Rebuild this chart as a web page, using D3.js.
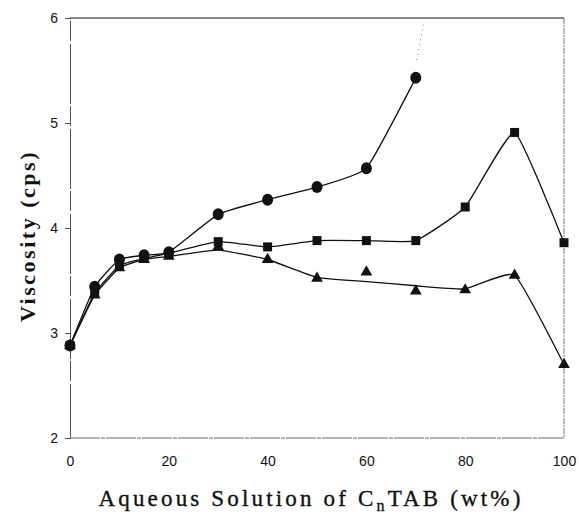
<!DOCTYPE html>
<html>
<head>
<meta charset="utf-8">
<script src="https://cdn.jsdelivr.net/npm/d3@7/dist/d3.min.js"></script>
<style>
  html, body { margin: 0; padding: 0; background: #fff; }
  svg { display: block; }
</style>
</head>
<body>
<svg id="chart" width="579" height="518"></svg>
<script>
// Concentration of CnTAB in the aqueous solution (wt%)
const concentration = [0, 5, 10, 15, 20, 30, 40, 50, 60, 70, 80, 90, 100];

// Viscosity (cps) for the three surfactant series
const circleSeries   = [2.88, 3.44, 3.70, 3.74, 3.77, 4.13, 4.27, 4.39, 4.57, 5.43];
const squareSeries   = [2.88, 3.38, 3.64, 3.71, 3.76, 3.87, 3.82, 3.88, 3.88, 3.88, 4.20, 4.91, 3.86];
const triangleSeries = [2.88, 3.36, 3.62, 3.70, 3.73, 3.82, 3.70, 3.52, 3.58, 3.40, 3.41, 3.55, 2.70];
// smoothed trend drawn through the triangle series
const triangleTrend  = [2.88, 3.36, 3.62, 3.70, 3.73, 3.79, 3.70, 3.53, 3.49, 3.45, 3.42, 3.55, 2.70];
// dotted continuation above the last circle point
const circleExtension = [[70.2, 5.60], [71.6, 5.96]];

const xTicks = [0, 20, 40, 60, 80, 100];
const yTicks = [2, 3, 4, 5, 6];

const svg = d3.select("#chart");
const x = d3.scaleLinear().domain([0, 100]).range([70, 564]);
const y = d3.scaleLinear().domain([2, 6]).range([438, 18]);

const ink = "#111";

// plot frame
svg.append("line").attr("x1", x(0)).attr("x2", x(100)).attr("y1", y(6)).attr("y2", y(6))
  .attr("stroke", ink).attr("stroke-width", 1.2);
svg.append("line").attr("x1", x(100)).attr("x2", x(100)).attr("y1", y(6)).attr("y2", y(2))
  .attr("stroke", "#777").attr("stroke-width", 1).attr("stroke-dasharray", "6,1,2,1");
svg.append("line").attr("x1", x(0)).attr("x2", x(100)).attr("y1", y(2)).attr("y2", y(2))
  .attr("stroke", "#666").attr("stroke-width", 1).attr("stroke-dasharray", "30,1,4,1");

// left axis
const yAxis = d3.axisLeft(y).tickValues(yTicks).tickSize(5).tickPadding(7).tickFormat(d3.format("d"));
const gy = svg.append("g").attr("transform", `translate(${x(0)},0)`).call(yAxis);
gy.select(".domain").attr("stroke", "#555").attr("stroke-dasharray", "60,3,20,2");
gy.selectAll(".tick line").attr("stroke", "#555");
gy.selectAll("text").attr("font-family", "Liberation Sans, Arial, sans-serif")
  .attr("font-size", 14).attr("fill", ink);

// bottom axis labels
const xAxis = d3.axisBottom(x).tickValues(xTicks).tickSize(0).tickPadding(18).tickFormat(d3.format("d"));
const gx = svg.append("g").attr("transform", `translate(0,${y(2)})`).call(xAxis);
gx.select(".domain").remove();
gx.selectAll("text").attr("font-family", "Liberation Sans, Arial, sans-serif")
  .attr("font-size", 14).attr("fill", ink);

// series lines
const line = d3.line().curve(d3.curveCardinal.tension(0.6))
  .x(d => x(d[0])).y(d => y(d[1]));
const pairs = vals => vals.map((v, i) => [concentration[i], v]);

[circleSeries, squareSeries, triangleTrend].forEach(vals => {
  svg.append("path").datum(pairs(vals)).attr("d", line)
    .attr("fill", "none").attr("stroke", ink).attr("stroke-width", 1.3);
});
svg.append("path").datum(circleExtension).attr("d", d3.line().x(d => x(d[0])).y(d => y(d[1])))
  .attr("fill", "none").attr("stroke", "#777").attr("stroke-width", 1).attr("stroke-dasharray", "1,4");

// markers
svg.append("g").selectAll("path").data(pairs(triangleSeries)).join("path")
  .attr("d", d3.symbol(d3.symbolTriangle, 60))
  .attr("transform", d => `translate(${x(d[0])},${y(d[1])})`).attr("fill", ink);
svg.append("g").selectAll("rect").data(pairs(squareSeries)).join("rect")
  .attr("x", d => x(d[0]) - 4.5).attr("y", d => y(d[1]) - 4.5)
  .attr("width", 9).attr("height", 9).attr("fill", ink);
svg.append("g").selectAll("ellipse").data(pairs(circleSeries)).join("ellipse")
  .attr("cx", d => x(d[0])).attr("cy", d => y(d[1]))
  .attr("rx", 5.5).attr("ry", 6).attr("fill", ink);

// stretch a title's letter spacing so it spans the given width
function fitWidth(sel, width) {
  const n = sel.text().length;
  const w = sel.node().getComputedTextLength();
  sel.attr("letter-spacing", (width - w) / n);
}

// axis titles
const xt = svg.append("text").attr("x", 311).attr("y", 506).attr("text-anchor", "middle")
  .attr("font-family", "Liberation Serif, Times New Roman, serif").attr("font-size", 23)
  .attr("fill", ink).attr("stroke", ink).attr("stroke-width", 0.35);
xt.append("tspan").text("Aqueous Solution of C");
xt.append("tspan").attr("font-size", 16).attr("dy", 5).text("n");
xt.append("tspan").attr("dy", -5).text("TAB (wt%)");
fitWidth(xt, 425);

const yt = svg.append("text").attr("transform", "translate(35,236) rotate(-90)").attr("text-anchor", "middle")
  .attr("font-family", "Liberation Serif, Times New Roman, serif").attr("font-size", 22)
  .attr("font-weight", "bold").attr("fill", ink)
  .text("Viscosity (cps)");
fitWidth(yt, 172);
</script>
</body>
</html>
